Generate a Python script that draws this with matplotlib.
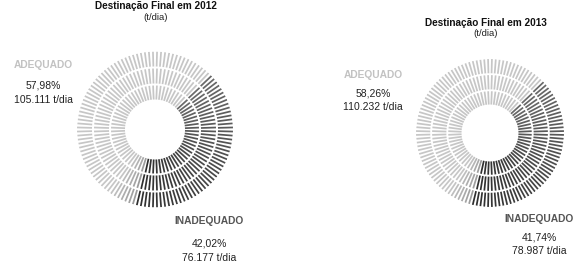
import numpy as np
import matplotlib
matplotlib.use('Agg')
import matplotlib.pyplot as plt
from matplotlib.colors import to_rgb

# data
years = ['2012', '2013']
pct_adequado = [57.98, 58.26]
pct_inadequado = [42.02, 41.74]
pct_adequado_txt = ['57,98%', '58,26%']
pct_inadequado_txt = ['42,02%', '41,74%']
ton_adequado_txt = ['105.111 t/dia', '110.232 t/dia']
ton_inadequado_txt = ['76.177 t/dia', '78.987 t/dia']

# ring layout (inner radius, outer radius, number of dashes)
rings = [(30, 44, 72), (46, 61, 96), (63, 78, 120)]
start_deg = 45

plt.rcParams['font.family'] = ['Liberation Sans', 'DejaVu Sans']

W, H = 587, 268
fig = plt.figure(figsize=(W / 100, H / 100), dpi=100)


def mix(c1, c2, f):
    a, b = np.array(to_rgb(c1)), np.array(to_rgb(c2))
    return tuple(a + (b - a) * f)


def ring_chart(box, pct_bad):
    ax = fig.add_axes(box, projection='polar')
    ax.set_theta_zero_location('N')
    ax.set_theta_direction(-1)
    span = pct_bad / 100 * 360
    for r0, r1, n in rings:
        ang = np.arange(n) * 360 / n + 360 / n / 2
        rel = (ang - start_deg) % 360
        cols = []
        for a in rel:
            if a < span:
                cols.append(mix('#6a6a6a', '#2e2e2e', a / span))
            else:
                f = min((a - span) / 20, 1)
                cols.append(mix('#9a9a9a', '#c6c6c6', f))
        ax.vlines(np.deg2rad(ang), r0, r1, colors=cols, linewidth=1.25,
                  capstyle='butt')
    ax.set_ylim(0, 78)
    ax.set_axis_off()
    return ax


def px_box(cx, cy, r):
    return [(cx - r) / W, (H - cy - r) / H, 2 * r / W, 2 * r / H]


ring_chart(px_box(155, 129.5, 78), pct_inadequado[0])
ring_chart(px_box(490, 133, 74), pct_inadequado[1])

# text
def t(x, y, s, **kw):
    fig.text(x / W, 1 - y / H, s, ha='center', va='center', **kw)

title_pos = [(156, 6, 17), (486, 23, 33)]
ade_pos = [(43, 65, 86, 100), (373, 75, 94, 107)]
inade_pos = [(209, 221, 243, 258), (539, 219, 237, 251)]

for i in range(2):
    x, y1, y2 = title_pos[i]
    t(x, y1, f'Destinação Final em {years[i]}', fontsize=7.2, fontweight='bold', color='#111111')
    t(x, y2, '(t/dia)', fontsize=6.8, color='#222222')

    x, ya, yb, yc = ade_pos[i]
    t(x, ya, 'ADEQUADO', fontsize=7.4, fontweight='bold', color='#c2c2c2')
    t(x, yb, pct_adequado_txt[i], fontsize=7.5, color='#222222')
    t(x, yc, ton_adequado_txt[i], fontsize=7.5, color='#222222')

    x, ya, yb, yc = inade_pos[i]
    t(x, ya, 'INADEQUADO', fontsize=7.4, fontweight='bold', color='#555555')
    t(x, yb, pct_inadequado_txt[i], fontsize=7.5, color='#222222')
    t(x, yc, ton_inadequado_txt[i], fontsize=7.5, color='#222222')

fig.savefig('out.png', dpi=100)
